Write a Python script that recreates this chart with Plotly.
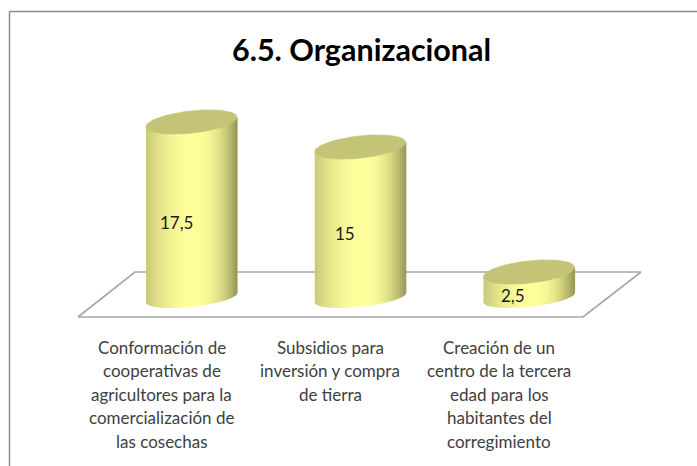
import numpy as np
import plotly.graph_objects as go

title = "6.5. Organizacional"
category_lines = [
    ["Conformación de", "cooperativas de", "agricultores para la", "comercialización de", "las cosechas"],
    ["Subsidios para", "inversión y compra", "de tierra"],
    ["Creación de un", "centro de la tercera", "edad para los", "habitantes del", "corregimiento"],
]
values = [17.5, 15, 2.5]
value_labels = ["17,5", "15", "2,5"]

W, H = 697, 466
PX_PER_CAT = 168.75
PX_PER_VAL = 10.0
X0_PX, Y0_PX = 191.5, 297.0

def xpx(p):
    return (p - X0_PX) / PX_PER_CAT
def ypx(p):
    return (Y0_PX - p) / PX_PER_VAL

A = 45.5 / PX_PER_CAT
B = 1.12
B_FRONT = 0.92
S = 0.47
EDGE_L = (200, 200, 122)
EDGE_R = (150, 150, 88)
MID = (255, 255, 155)
TOP = "#c4c477"

def shade(t):
    # t in [0, 1] across the cylinder; pale highlight near centre, olive at the rims
    if t < 0.52:
        k = ((0.52 - t) / 0.52) ** 2.0
        edge = EDGE_L
    else:
        k = ((t - 0.52) / 0.48) ** 2.3
        edge = EDGE_R
    c = [MID[i] + (edge[i] - MID[i]) * k for i in range(3)]
    return "rgb(%d,%d,%d)" % tuple(c)

fig = go.Figure()

# floor
fig.add_trace(go.Scatter(
    x=[xpx(78), xpx(135), xpx(641), xpx(583), xpx(78)],
    y=[ypx(317), ypx(272), ypx(272), ypx(317), ypx(317)],
    mode="lines", line=dict(color="#a6a6a6", width=1.6), hoverinfo="skip", showlegend=False))

N = 46
for i, v in enumerate(values):
    xe = np.linspace(-1, 1, N + 1)
    for j in range(N):
        c = np.linspace(xe[j], xe[j + 1], 3)
        s = np.sqrt(np.clip(1 - c ** 2, 0, 1))
        xs = i + A * c
        lower = -B_FRONT * s + S * c
        upper = v - B * s + S * c
        xp = np.concatenate([xs, xs[::-1]])
        yp = np.concatenate([lower, upper[::-1]])
        col = shade((c[1] + 1) / 2)
        fig.add_trace(go.Scatter(x=xp, y=yp, mode="lines", fill="toself", fillcolor=col,
                                 line=dict(color=col, width=1.2), hoverinfo="skip", showlegend=False))
    th = np.linspace(0, 2 * np.pi, 90)
    fig.add_trace(go.Scatter(x=i + A * np.cos(th), y=v + B * np.sin(th) + S * np.cos(th),
                             mode="lines", fill="toself", fillcolor=TOP, line=dict(color=TOP, width=0.6),
                             hoverinfo="skip", showlegend=False))

annotations = []
label_y_px = [222, 233, 295]
label_x_px = [176, 345, 513]
for lab, yp_, xp_ in zip(value_labels, label_y_px, label_x_px):
    annotations.append(dict(x=xpx(xp_), y=ypx(yp_), text=lab, showarrow=False,
                            font=dict(family="Lato", size=17, color="#1a1a1a")))
for i, lines in enumerate(category_lines):
    for k, line in enumerate(lines):
        annotations.append(dict(x=i - 30 / PX_PER_CAT, y=ypx(347 + 23.5 * k), text=line, showarrow=False,
                                font=dict(family="Lato", size=17, color="#404040")))
annotations.append(dict(x=361 / W, y=1 - 49 / H, xref="paper", yref="paper", yanchor="middle", text="<b>%s</b>" % title,
                        showarrow=False, font=dict(family="Lato", size=30.5, color="#000000")))

fig.update_layout(
    width=W, height=H, margin=dict(l=0, r=0, t=0, b=0),
    paper_bgcolor="white", plot_bgcolor="white",
    xaxis=dict(range=[xpx(0), xpx(W)], visible=False, fixedrange=True),
    yaxis=dict(range=[ypx(H), ypx(0)], visible=False, fixedrange=True),
    annotations=annotations, showlegend=False,
    shapes=[dict(type="line", xref="paper", yref="paper", x0=9.5 / W, x1=1, y0=1 - 11.5 / H, y1=1 - 11.5 / H,
                 line=dict(color="#8c8c8c", width=1.5)),
            dict(type="line", xref="paper", yref="paper", x0=9.5 / W, x1=9.5 / W, y0=0, y1=1 - 11.5 / H,
                 line=dict(color="#8c8c8c", width=1.5))],
)
fig.write_html("out.html", config=dict(displayModeBar=False),
               post_script="document.body.style.margin='0';document.body.style.overflow='hidden';")
